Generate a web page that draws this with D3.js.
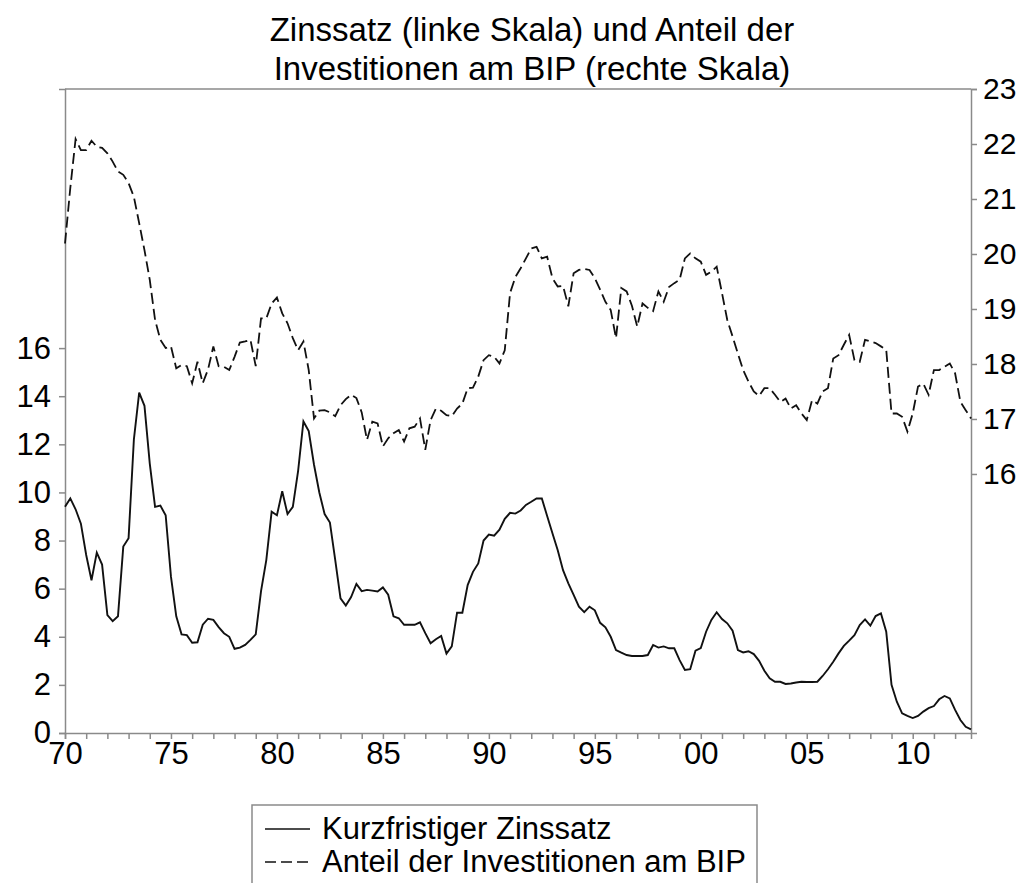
<!DOCTYPE html>
<html>
<head>
<meta charset="utf-8">
<script src="https://cdn.jsdelivr.net/npm/d3@7"></script>
<style>
body{margin:0;background:#fff;}
svg{font-family:"Liberation Sans",Arial,sans-serif;}
.axis path,.axis line{stroke:#8a8a8a;stroke-width:1.5;}
.axis text{fill:#000;}
</style>
</head>
<body>
<svg width="1025" height="883"></svg>
<script>
//quarterly data, 1970Q1 .. 2012Q4
var startYear = 1970
var zinssatz = [
 9.4,9.75,9.3,8.7, 7.4,6.35,7.5,7.0, 4.9,4.65,4.85,7.75, 8.1,12.2,14.15,13.6,
 11.2,9.4,9.45,9.05, 6.5,4.85,4.1,4.07, 3.75,3.77,4.5,4.75, 4.7,4.4,4.15,4.0,
 3.5,3.55,3.66,3.87, 4.1,5.9,7.2,9.2, 9.05,10.05,9.1,9.4, 10.9,12.95,12.55,11.15,
 10.0,9.1,8.75,7.2, 5.6,5.3,5.65,6.2, 5.9,5.95,5.92,5.88, 6.05,5.75,4.85,4.77,
 4.5,4.5,4.5,4.6, 4.15,3.73,3.9,4.03, 3.3,3.6,5.0,5.0, 6.15,6.7,7.05,8.0,
 8.25,8.2,8.45,8.9, 9.15,9.12,9.25,9.48, 9.61,9.75,9.75,9.02, 8.3,7.6,6.77,6.22,
 5.74,5.25,5.02,5.25, 5.1,4.58,4.39,4.0, 3.45,3.34,3.24,3.2, 3.2,3.2,3.24,3.66,
 3.55,3.6,3.52,3.52, 3.03,2.62,2.65,3.42, 3.53,4.21,4.7,5.02, 4.74,4.56,4.25,3.45,
 3.35,3.4,3.28,3.0, 2.59,2.27,2.13,2.13, 2.04,2.06,2.1,2.13, 2.12,2.12,2.13,2.37,
 2.65,2.96,3.31,3.62, 3.84,4.07,4.49,4.72, 4.46,4.86,4.97,4.21, 2.0,1.3,0.82,0.71,
 0.62,0.71,0.89,1.03, 1.12,1.4,1.54,1.44, 0.96,0.54,0.26,0.15
]
var investitionen = [
 20.19,21.2,22.09,21.89, 21.89,22.06,21.95,21.93, 21.83,21.68,21.5,21.44, 21.29,21.04,20.56,20.07,
 19.53,18.8,18.44,18.29, 18.32,17.92,17.98,17.96, 17.65,18.04,17.65,17.9, 18.32,17.96,17.95,17.89,
 18.13,18.39,18.41,18.44, 17.96,18.83,18.83,19.1, 19.21,18.92,18.74,18.47, 18.25,18.41,17.89,17.01,
 17.15,17.16,17.12,17.05, 17.25,17.36,17.44,17.38, 17.12,16.62,16.95,16.92, 16.5,16.65,16.74,16.8,
 16.59,16.83,16.86,17.01, 16.44,16.98,17.19,17.15, 17.07,17.05,17.19,17.28, 17.56,17.57,17.77,18.07,
 18.16,18.13,18.01,18.25, 19.29,19.58,19.74,19.92, 20.1,20.13,19.92,19.95, 19.56,19.41,19.42,19.05,
 19.65,19.71,19.73,19.71, 19.56,19.35,19.13,18.98, 18.47,19.38,19.32,19.06, 18.68,19.1,19.02,18.96,
 19.32,19.13,19.4,19.47, 19.53,19.92,20.01,19.92, 19.86,19.62,19.68,19.77, 19.29,18.8,18.5,18.19,
 17.89,17.68,17.5,17.42, 17.56,17.56,17.44,17.31, 17.37,17.19,17.25,17.1, 16.98,17.34,17.28,17.5,
 17.56,18.1,18.16,18.35, 18.53,18.07,18.04,18.44, 18.41,18.38,18.32,18.26, 17.1,17.1,17.04,16.77,
 17.1,17.59,17.64,17.44, 17.89,17.89,17.95,18.01, 17.83,17.31,17.16,17.01
]
var leftTicks = [0,2,4,6,8,10,12,14,16]
var rightTicks = [16,17,18,19,20,21,22,23]
var yearTicks = d3.range(1970,2013)
var titleLines = ["Zinssatz (linke Skala) und Anteil der","Investitionen am BIP (rechte Skala)"]
var legendLabels = ["Kurzfristiger Zinssatz","Anteil der Investitionen am BIP"]

var plot = {left:65,right:971,top:89,bottom:733}

var xScale = d3.scaleLinear()
    .domain([1970,2012.75])
    .range([plot.left,plot.right])
var yLeft = d3.scaleLinear()
    .domain([0,26.77])
    .range([plot.bottom,plot.top])
var yRight = d3.scaleLinear()
    .domain([11.29,23])
    .range([plot.bottom,plot.top])

var svg = d3.select("svg")

//frame top
svg.append("line")
    .attr("x1",plot.left).attr("x2",plot.right)
    .attr("y1",plot.top).attr("y2",plot.top)
    .attr("stroke","#8a8a8a")
    .attr("stroke-width",1.5)

var xAxis = d3.axisBottom(xScale)
    .tickValues(yearTicks)
    .tickSize(6)
    .tickPadding(3)
    .tickFormat(function(y)
        {
            return y%5==0 ? d3.format("02")(y%100) : ""
        })
svg.append("g")
    .classed("axis",true)
    .attr("transform","translate(0,"+plot.bottom+")")
    .call(xAxis)
    .attr("font-size",31)

svg.append("g")
    .classed("axis",true)
    .attr("transform","translate("+plot.left+",0)")
    .call(d3.axisLeft(yLeft).tickValues(leftTicks).tickSize(6).tickPadding(8))
    .attr("font-size",31)

svg.append("g")
    .classed("axis",true)
    .attr("transform","translate("+plot.right+",0)")
    .call(d3.axisRight(yRight).tickValues(rightTicks).tickSize(6).tickPadding(6))
    .attr("font-size",30)

svg.selectAll(".axis .domain").attr("stroke-width",1.8)
svg.selectAll(".axis text").attr("font-family","Liberation Sans, Arial, sans-serif")

var lineLeft = d3.line()
    .x(function(d,i){ return xScale(startYear+i/4) })
    .y(function(d){ return yLeft(d) })
var lineRight = d3.line()
    .x(function(d,i){ return xScale(startYear+i/4) })
    .y(function(d){ return yRight(d) })

svg.append("path")
    .datum(investitionen)
    .attr("d",lineRight)
    .attr("fill","none")
    .attr("stroke","#111")
    .attr("stroke-width",1.8)
    .attr("stroke-dasharray","11,5")

svg.append("path")
    .datum(zinssatz)
    .attr("d",lineLeft)
    .attr("fill","none")
    .attr("stroke","#111")
    .attr("stroke-width",1.9)

//title
svg.append("g")
    .selectAll("text")
    .data(titleLines)
    .enter()
    .append("text")
    .text(function(d){ return d })
    .attr("x",532)
    .attr("y",function(d,i){ return 41+i*39 })
    .attr("text-anchor","middle")
    .attr("font-size",33)

//legend
var legend = svg.append("g")
legend.append("rect")
    .attr("x",252).attr("y",805)
    .attr("width",505).attr("height",100)
    .attr("fill","none")
    .attr("stroke","#8a8a8a")
    .attr("stroke-width",1.5)

var rows = legend.selectAll("g")
    .data(legendLabels)
    .enter()
    .append("g")
    .attr("transform",function(d,i){ return "translate(0,"+(829+i*33)+")" })
rows.append("line")
    .attr("x1",265).attr("x2",310)
    .attr("stroke","#111")
    .attr("stroke-width",1.6)
    .attr("stroke-dasharray",function(d,i){ return i==0 ? null : "11,5" })
rows.append("text")
    .text(function(d){ return d })
    .attr("x",322)
    .attr("y",10)
    .attr("font-size",31)
</script>
</body>
</html>
